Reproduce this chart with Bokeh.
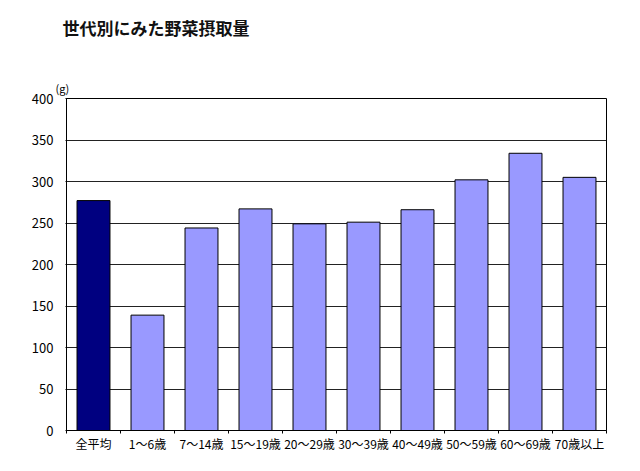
from bokeh.plotting import figure
from bokeh.models import FixedTicker, Title
from bokeh.embed import file_html
from bokeh.resources import INLINE

categories = ["全平均", "1～6歳", "7～14歳", "15～19歳", "20～29歳", "30～39歳",
              "40～49歳", "50～59歳", "60～69歳", "70歳以上"]
values = [277, 139, 244, 267, 249, 251, 266, 302, 334, 305]
colors = ["#000080"] + ["#9999FF"] * 9
y_ticks = [0, 50, 100, 150, 200, 250, 300, 350, 400]

FONT = "Noto Sans CJK JP"

n = len(categories)
centers = [i + 0.5 for i in range(n)]
bounds = list(range(n + 1))

p = figure(width=632, height=463, output_backend="svg", toolbar_location=None,
           x_range=(0, n), y_range=(0, 400),
           min_border_left=66, min_border_right=26, min_border_top=98, min_border_bottom=33,
           frame_width=540, frame_height=332)

p.vbar(x=centers, top=values, width=0.61, fill_color=colors, line_color="black", line_width=1)

p.title = Title(text="世代別にみた野菜摂取量", align="left", text_font=FONT,
                text_font_size="17px", text_font_style="bold", text_color="#111111",
                vertical_align="top", standoff=2, offset=-4)

# unit label, closest to the frame
p.add_layout(Title(text="(g)", align="left", text_font=FONT, text_font_size="11px",
                   text_font_style="normal", text_color="black", standoff=6, offset=-11,
                   vertical_align="bottom"),
             "above")
# blank spacer between unit label and title
p.add_layout(Title(text=" ", align="left", text_font=FONT, text_font_size="10px",
                   standoff=15), "above")

p.xaxis.ticker = FixedTicker(ticks=centers, minor_ticks=bounds)
p.xaxis.major_label_overrides = {c: lab for c, lab in zip(centers, categories)}
p.xaxis.major_tick_out = 0
p.xaxis.major_tick_in = 0
p.xaxis.minor_tick_out = 3
p.xaxis.minor_tick_in = 0
p.xaxis.minor_tick_line_color = "black"
p.xaxis.axis_line_color = "black"
p.xaxis.major_label_text_font = FONT
p.xaxis.major_label_text_font_size = "12px"
p.xaxis.major_label_text_color = "black"
p.xaxis.major_label_standoff = 1

p.yaxis.ticker = FixedTicker(ticks=y_ticks)
p.yaxis.major_tick_out = 1
p.yaxis.major_tick_in = 0
p.yaxis.minor_tick_line_color = None
p.yaxis.axis_line_color = "black"
p.yaxis.major_label_text_font = FONT
p.yaxis.major_label_text_font_size = "13px"
p.yaxis.major_label_text_color = "black"
p.yaxis.major_label_standoff = 12

p.xgrid.grid_line_color = None
p.ygrid.ticker = FixedTicker(ticks=y_ticks)
p.ygrid.grid_line_color = "#222222"
p.ygrid.grid_line_width = 1

p.outline_line_color = "black"
p.outline_line_width = 1
p.background_fill_color = "white"
p.border_fill_color = "white"

open("out.html", "w").write(file_html(p, INLINE))
